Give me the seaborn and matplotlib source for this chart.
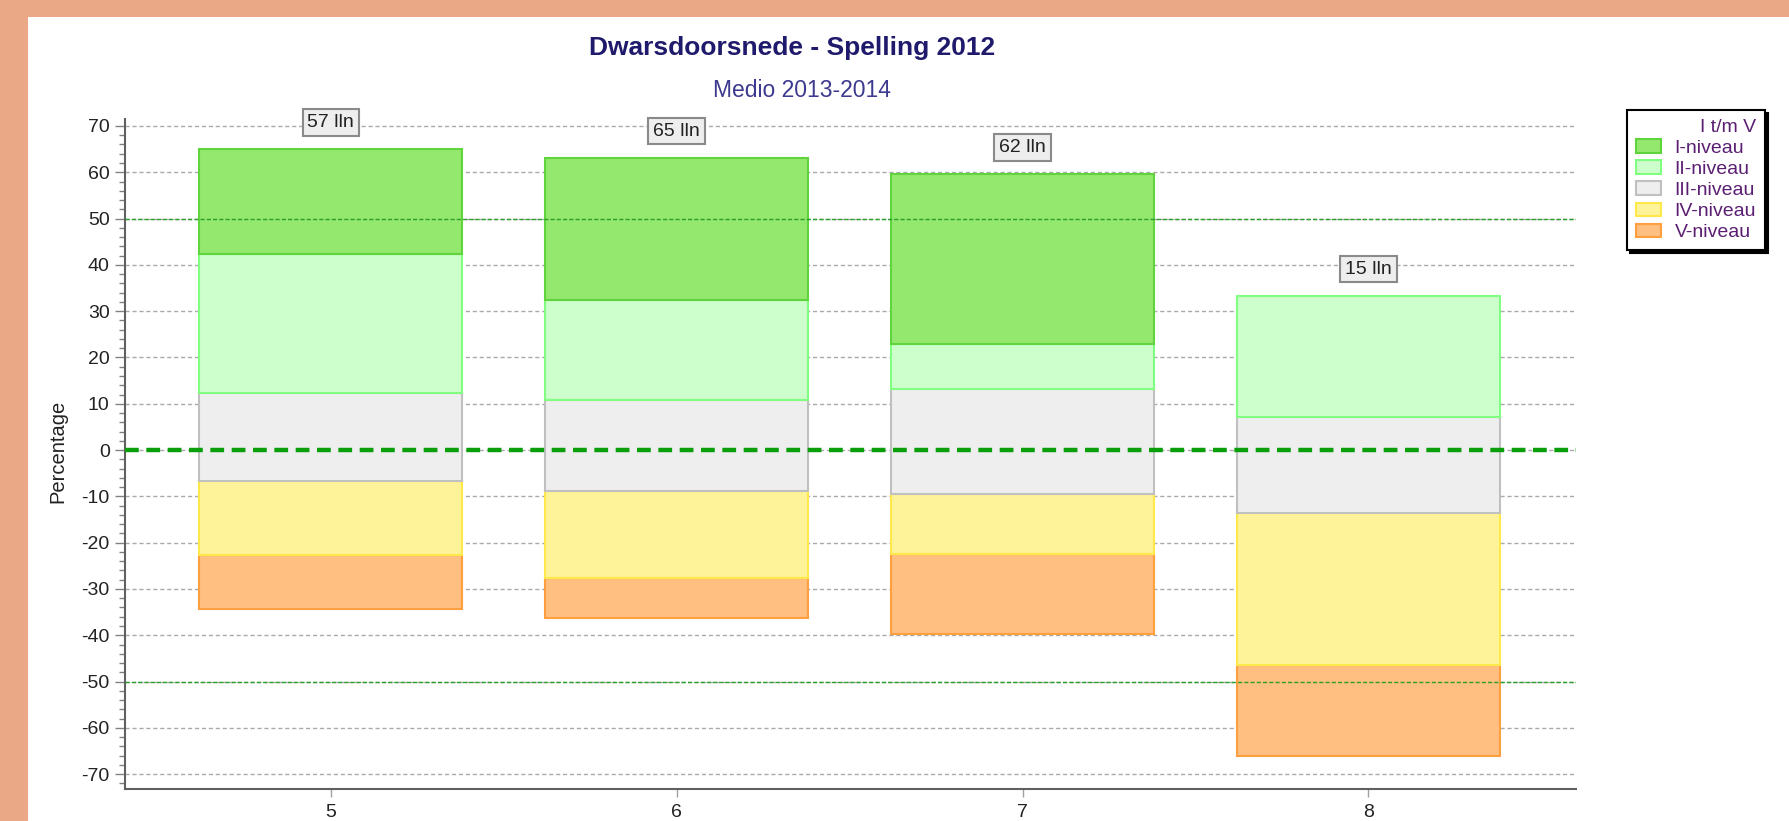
import matplotlib
matplotlib.use("Agg")
import matplotlib.pyplot as plt
import matplotlib.ticker as mticker
from matplotlib.patches import Rectangle
import pandas as pd
import seaborn as sns

# Gegevens (percentages per niveau)
groepen = ["5", "6", "7", "8"]
leerlingen = ["57 lln", "65 lln", "62 lln", "15 lln"]
niveau_I = [22.6, 30.6, 36.7, 0.0]
niveau_II = [30.1, 21.7, 9.8, 26.1]
niveau_III = [19.0, 19.7, 22.5, 20.7]
niveau_IV = [16.0, 18.7, 13.0, 32.9]
niveau_V = [11.6, 8.6, 17.3, 19.7]
onderkant = [-34.3, -36.2, -39.7, -66.1]

niveaus = ["I-niveau", "II-niveau", "III-niveau", "IV-niveau", "V-niveau"]
vulkleur = ["#94e86e", "#ccffcc", "#eeeeee", "#fff399", "#ffbf80"]
randkleur = ["#5fd43c", "#80ff80", "#c0c0c0", "#ffe84a", "#ff9f40"]

df = pd.DataFrame({
    "Groep": groepen,
    "I-niveau": niveau_I,
    "II-niveau": niveau_II,
    "III-niveau": niveau_III,
    "IV-niveau": niveau_IV,
    "V-niveau": niveau_V,
})

sns.set_style("white")
plt.rcParams["font.family"] = ["Liberation Sans", "DejaVu Sans"]
plt.rcParams["axes.unicode_minus"] = False

fig = plt.figure(figsize=(17.9, 8.21), dpi=100)
fig.patch.set_facecolor("white")
# zalmkleurige rand links en boven
fig.patches.append(Rectangle((0, 0), 28 / 1790, 1, transform=fig.transFigure,
                             facecolor="#eba886", edgecolor="none", zorder=0))
fig.patches.append(Rectangle((0, 1 - 17 / 821), 1, 17 / 821, transform=fig.transFigure,
                             facecolor="#eba886", edgecolor="none", zorder=0))

ax = fig.add_axes([125 / 1790, 32 / 821, 1451 / 1790, 670 / 821])

# gestapelde balken, van onder (V) naar boven (I)
bodem = pd.Series(onderkant, dtype=float)
for i in [4, 3, 2, 1, 0]:
    niveau = niveaus[i]
    hoogte = df[niveau]
    mask = hoogte > 0
    sub = df.loc[mask, ["Groep", niveau]]
    sns.barplot(data=sub, x="Groep", y=niveau, order=groepen,
                bottom=bodem[mask].to_numpy(), width=0.76, color=vulkleur[i],
                edgecolor=randkleur[i], linewidth=1.5, saturation=1,
                errorbar=None, label=niveau, ax=ax, zorder=2)
    bodem = bodem + hoogte

# aantal leerlingen boven elke balk
for x, (tekst, top) in enumerate(zip(leerlingen, bodem)):
    ax.text(x, top + 5.8, tekst, ha="center", va="center", fontsize=14, color="#222222",
            bbox=dict(boxstyle="square,pad=0.25", facecolor="#eeeeee", edgecolor="#8a8a8a", lw=1.5),
            zorder=6)

ax.axhline(0, color="#0a9e0a", lw=3.2, dashes=(3.1, 1.7), zorder=5)
for y in [50, -50]:
    ax.axhline(y, color="#2aa02a", lw=1, dashes=(3, 1.5), zorder=4)

ax.set_ylim(-73.2, 71.5)
ax.set_xlim(-0.595, 3.6)
ax.yaxis.set_major_locator(mticker.MultipleLocator(10))
ax.yaxis.set_minor_locator(mticker.MultipleLocator(2))
ax.yaxis.grid(True, which="major", color="#aaaaaa", lw=1, dashes=(3, 2))
ax.set_axisbelow(True)

for s in ["top", "right"]:
    ax.spines[s].set_visible(False)
for s in ["left", "bottom"]:
    ax.spines[s].set_color("#606060")
    ax.spines[s].set_linewidth(1.5)

ax.tick_params(axis="y", which="major", direction="out", length=7, width=1, color="#808080",
               labelsize=14, labelcolor="#222222", left=True, pad=4)
ax.tick_params(axis="y", which="minor", direction="out", length=4, width=1, color="#808080", left=True)
ax.tick_params(axis="x", direction="out", length=6, width=1, color="#a0a0a0",
               labelsize=14, labelcolor="#222222", bottom=True, pad=5)

ax.set_xlabel("")
ax.set_ylabel("Percentage", fontsize=14.5, color="#222222")
ax.yaxis.set_label_coords(-0.040, 0.504)

fig.text(792 / 1790, 1 - 48 / 821, "Dwarsdoorsnede - Spelling 2012", ha="center", va="center",
         fontsize=19, fontweight="bold", color="#1f1a6b")
fig.text(802 / 1790, 1 - 90 / 821, "Medio 2013-2014", ha="center", va="center",
         fontsize=16.5, color="#3d3a8f")

handles, labels = ax.get_legend_handles_labels()
volgorde = [labels.index(n) for n in niveaus]
leg = ax.legend([handles[k] for k in volgorde], [labels[k] for k in volgorde],
                title="I t/m V", loc="upper left",
                bbox_to_anchor=(1627 / 1790, 1 - 110 / 821), bbox_transform=fig.transFigure,
                frameon=True, fancybox=False, shadow={"color": "black", "alpha": 1},
                edgecolor="black", framealpha=1, fontsize=14, title_fontsize=14,
                alignment="right", borderpad=0.45, labelspacing=0.18, handlelength=1.3,
                handleheight=0.7, handletextpad=0.7, borderaxespad=0, labelcolor="#5b1f72")
leg.get_title().set_color("#5b1f72")
leg.get_frame().set_linewidth(1.5)

fig.savefig("out.png", dpi=100)
